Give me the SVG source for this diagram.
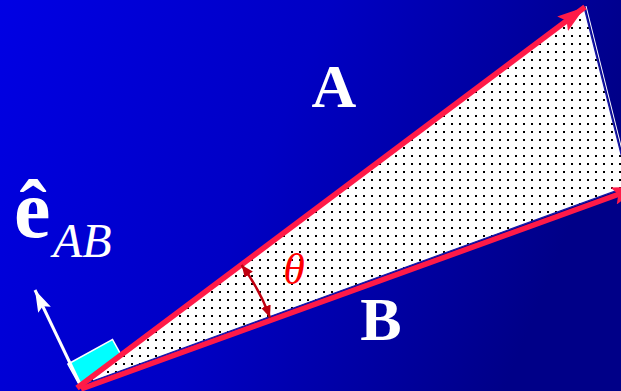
<svg xmlns="http://www.w3.org/2000/svg" width="621" height="391" viewBox="0 0 621 391">
  <defs>
    <linearGradient id="bg" x1="0" y1="0" x2="1" y2="0.25">
      <stop offset="0" stop-color="#0000e4"/>
      <stop offset="0.5" stop-color="#0000c4"/>
      <stop offset="1" stop-color="#000088"/>
    </linearGradient>
    <pattern id="dots" x="0" y="0" width="8" height="8" patternUnits="userSpaceOnUse">
      <rect width="8" height="8" fill="#ffffff"/>
      <rect x="3" y="3" width="2" height="2" fill="#000000"/>
    </pattern>
    <marker id="redHead" viewBox="0 0 28 18" refX="28" refY="9" markerWidth="28" markerHeight="18" markerUnits="userSpaceOnUse" orient="auto">
      <path d="M0,0 L28,9 L0,18 L5,9 Z" fill="#ff1a48"/>
    </marker>
    <marker id="whiteHead" viewBox="0 0 22 14" refX="22" refY="7" markerWidth="22" markerHeight="14" markerUnits="userSpaceOnUse" orient="auto">
      <path d="M0,0 L22,7 L0,14 L4,7 Z" fill="#ffffff"/>
    </marker>
    <marker id="arcHead" viewBox="0 0 12 10" refX="12" refY="5" markerWidth="12" markerHeight="10" markerUnits="userSpaceOnUse" orient="auto-start-reverse">
      <path d="M0,0 L12,5 L0,10 Z" fill="#c00010"/>
    </marker>
    <style>
      .vec { stroke: #ff1a48; stroke-width: 5.5; fill: none; }
      .lbl { font-family: "Liberation Serif", "Times New Roman", serif; fill: #ffffff; }
    </style>
  </defs>

  <rect id="background" x="0" y="0" width="621" height="391" fill="url(#bg)"/>

  <g id="normal-marker">
    <rect x="0" y="-25" width="51" height="25" fill="#00ffff" stroke="#ffffff" stroke-width="1.5" transform="translate(80,386) rotate(-29)"/>
  </g>

  <g id="parallelogram-area">
    <polygon points="79,386 584,7 629,186" fill="url(#dots)" stroke="#1a1aa8" stroke-width="1.2"/>
    <line x1="586" y1="6" x2="631" y2="186" stroke="#ffffff" stroke-width="1"/>
  </g>

  <g id="connectors">
    <line id="vector-eAB" x1="80" y1="384" x2="35" y2="290" stroke="#ffffff" stroke-width="3" marker-end="url(#whiteHead)"/>
    <line id="vector-A" class="vec" x1="77" y1="388" x2="585" y2="7" marker-end="url(#redHead)"/>
    <line id="vector-B" class="vec" x1="81" y1="389" x2="640" y2="186.5" marker-end="url(#redHead)"/>
    <path id="angle-theta" d="M241.6,265 A202,202 0 0 1 270,317.6" fill="none" stroke="#c00010" stroke-width="2.5" marker-start="url(#arcHead)" marker-end="url(#arcHead)"/>
  </g>

  <g id="labels">
    <text id="label-A" class="lbl" x="334" y="107" font-size="62" font-weight="bold" text-anchor="middle">A</text>
    <text id="label-B" class="lbl" x="381" y="340" font-size="62" font-weight="bold" text-anchor="middle">B</text>
    <text id="label-theta" x="294" y="284" font-family="Liberation Serif, 'Times New Roman', serif" font-size="44" font-style="italic" fill="#ff0000" text-anchor="middle">θ</text>
    <text id="label-eAB" class="lbl" x="14" y="237"><tspan font-size="82" font-weight="bold">ê</tspan><tspan x="53" y="257" font-size="48" font-style="italic">AB</tspan></text>
  </g>
</svg>
